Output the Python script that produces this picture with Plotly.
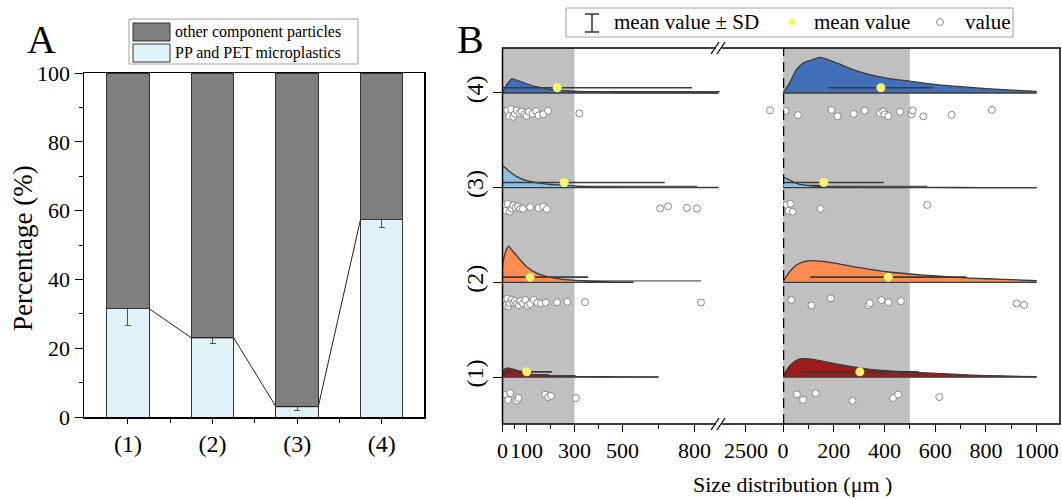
import plotly.graph_objects as go

W, H = 1062, 499
FONT = "Liberation Serif"


def X(p):
    return p / W


def Y(p):
    return (H - p) / H


# ---------------- Panel A data ----------------
groups = ["(1)", "(2)", "(3)", "(4)"]
pp_pet = [31.5, 23.0, 3.0, 57.5]
pp_pet_sd = [5.0, 1.5, 1.0, 2.5]
other = [100 - v for v in pp_pet]

# ---------------- Panel B data (size, um) ----------------
size_left_1 = [15, 24, 32, 60, 67, 178, 190, 202, 306]
size_left_2 = [10, 15, 20, 25, 30, 38, 45, 52, 60, 68, 75, 85, 95, 105, 115, 130,
               145, 160, 180, 227, 270, 344, 827]
size_left_3 = [8, 15, 22, 30, 38, 45, 55, 65, 75, 85, 115, 150, 170, 185, 657, 690, 768, 810]
size_left_4 = [20, 28, 35, 45, 52, 60, 70, 80, 92, 100, 110, 125, 140, 150, 170, 190, 320, 2600]
size_right_1 = [55, 79, 129, 274, 434, 454, 616]
size_right_2 = [33, 112, 188, 336, 342, 388, 415, 465, 921, 950]
size_right_3 = [14, 22, 30, 38, 148, 569]
size_right_4 = [10, 59, 191, 215, 279, 322, 382, 395, 401, 415, 461, 507, 511, 553, 665, 823]

mean_left = [101, 115, 257, 228]
sd_left = [105, 242, 419, 562]
mean_right = [303, 415, 161, 386]
sd_right = [231, 308, 236, 205]

# relative density curves
dens_left_1_x = [0, 18, 60, 100, 130, 200, 330, 500, 650]
dens_left_1_y = [0.063, 0.095, 0.071, 0.042, 0.025, 0.013, 0.005, 0.002, 0.001]
dens_left_2_x = [0, 15, 25, 45, 75, 100, 145, 200, 250, 335, 435, 545]
dens_left_2_y = [0.165, 0.338, 0.383, 0.323, 0.235, 0.165, 0.095, 0.053, 0.032, 0.017, 0.005, 0.001]
dens_left_3_x = [0, 5, 30, 60, 100, 160, 230, 320, 450, 600, 900]
dens_left_3_y = [0.222, 0.222, 0.169, 0.116, 0.074, 0.046, 0.029, 0.014, 0.006, 0.003, 0.002]
dens_left_4_x = [0, 10, 20, 40, 60, 90, 140, 200, 280, 380, 500, 700, 900]
dens_left_4_y = [0, 0.053, 0.095, 0.148, 0.132, 0.106, 0.067, 0.039, 0.021, 0.011, 0.005, 0.003, 0.002]

dens_right_1_x = [0, 26, 53, 79, 118, 184, 276, 342, 474, 605, 737, 869, 1000]
dens_right_1_y = [0.011, 0.116, 0.176, 0.193, 0.187, 0.151, 0.106, 0.081, 0.056, 0.039, 0.021, 0.011, 0.003]
dens_right_2_x = [0, 26, 53, 92, 145, 211, 276, 342, 408, 500, 605, 737, 869, 1000]
dens_right_2_y = [0.007, 0.112, 0.183, 0.225, 0.225, 0.201, 0.165, 0.137, 0.112, 0.088, 0.067, 0.045, 0.032, 0.017]
dens_right_3_x = [0, 3, 26, 53, 92, 156, 250, 400, 600, 800, 1000]
dens_right_3_y = [0.109, 0.109, 0.081, 0.045, 0.024, 0.011, 0.005, 0.003, 0.002, 0.001, 0.001]
dens_right_4_x = [0, 26, 53, 79, 118, 145, 211, 276, 342, 408, 500, 605, 737, 869, 1000]
dens_right_4_y = [0, 0.106, 0.246, 0.317, 0.352, 0.375, 0.317, 0.246, 0.193, 0.158, 0.124, 0.088, 0.059, 0.035, 0.017]

seg1_range = [0, 906]
seg2_range = [2392, 2654]
seg3_range = [0, 1092]

colors = {1: "#9e1b1b", 2: "#fd8c52", 3: "#8cbfe3", 4: "#4170b8"}
OUT = "#3a3a3a"

fig = go.Figure()

# ---------------- Panel A ----------------
xpos = [1, 2, 3, 4]
BW = 0.5
fig.add_trace(go.Bar(x=xpos, y=pp_pet, width=BW, marker=dict(color="#dff3f9", line=dict(color="#333", width=1)),
                     error_y=dict(type="data", array=pp_pet_sd, color="#555", thickness=1, width=3),
                     xaxis="x", yaxis="y", showlegend=False, hoverinfo="skip"))
fig.add_trace(go.Bar(x=xpos, y=other, width=BW, marker=dict(color="#7f7f7f", line=dict(color="#333", width=1)),
                     xaxis="x", yaxis="y", showlegend=False, hoverinfo="skip"))
lx, ly = [], []
for i, v in enumerate(pp_pet):
    if i > 0:
        lx.append(xpos[i] - BW / 2)
        ly.append(v)
    if i < len(pp_pet) - 1:
        lx.append(xpos[i] + BW / 2)
        ly.append(v)
fig.add_trace(go.Scatter(x=lx, y=ly, mode="lines", line=dict(color="#222", width=1),
                         xaxis="x", yaxis="y", showlegend=False, hoverinfo="skip"))

# ---------------- Panel B ----------------
def add_violin(xs, hs, cat, color, xref):
    xs = list(xs)
    hs = list(hs)
    if hs[0] > 0.02:
        xs = [xs[0]] + xs
        hs = [0] + hs
    fig.add_trace(go.Scatter(x=[xs[0], xs[-1]], y=[cat, cat], mode="lines",
                             line=dict(color=OUT, width=1.3), xaxis=xref, yaxis="y2",
                             showlegend=False, hoverinfo="skip"))
    fig.add_trace(go.Scatter(x=xs, y=[cat + h for h in hs], mode="lines",
                             line=dict(color=OUT, width=1.3, shape="spline", smoothing=0.7),
                             fill="tonexty", fillcolor=color, xaxis=xref, yaxis="y2",
                             showlegend=False, hoverinfo="skip"))


def add_box(vals, cat, xref):
    fig.add_trace(go.Box(x=vals, y0=cat + 0.015, orientation="h", boxpoints=False, width=0.02,
                         fillcolor="#555", line=dict(color=OUT, width=1), whiskerwidth=0,
                         xaxis=xref, yaxis="y2", showlegend=False, hoverinfo="skip"))


def add_points(vals, cat, xref, lo, hi):
    v = [a for a in vals if lo <= a <= hi]
    if not v:
        return
    fig.add_trace(go.Box(x=v, y0=cat, orientation="h", boxpoints="all", jitter=0.5, pointpos=-2,
                         width=0.21, fillcolor="rgba(0,0,0,0)",
                         line=dict(color="rgba(0,0,0,0)", width=0), whiskerwidth=0,
                         marker=dict(symbol="circle", size=7, color="white",
                                     line=dict(color="#8a8a8a", width=1)),
                         xaxis=xref, yaxis="y2", showlegend=False, hoverinfo="skip"))


def add_mean(m, s, cat, xref):
    fig.add_trace(go.Scatter(x=[m], y=[cat + 0.055], mode="markers",
                             marker=dict(color="#f7f46a", size=9),
                             error_x=dict(type="data", array=[s], color=OUT, thickness=1.6, width=0),
                             xaxis=xref, yaxis="y2", showlegend=False, hoverinfo="skip"))


left_sets = {1: (size_left_1, dens_left_1_x, dens_left_1_y),
             2: (size_left_2, dens_left_2_x, dens_left_2_y),
             3: (size_left_3, dens_left_3_x, dens_left_3_y),
             4: (size_left_4, dens_left_4_x, dens_left_4_y)}
right_sets = {1: (size_right_1, dens_right_1_x, dens_right_1_y),
              2: (size_right_2, dens_right_2_x, dens_right_2_y),
              3: (size_right_3, dens_right_3_x, dens_right_3_y),
              4: (size_right_4, dens_right_4_x, dens_right_4_y)}

for cat in [1, 2, 3, 4]:
    vals, dx, dy = left_sets[cat]
    add_violin(dx, dy, cat, colors[cat], "x2")
    add_box(vals, cat, "x2")
    vals_r, dxr, dyr = right_sets[cat]
    add_violin(dxr, dyr, cat, colors[cat], "x4")
    add_box(vals_r, cat, "x4")

for cat in [1, 2, 3, 4]:
    add_mean(mean_left[cat - 1], sd_left[cat - 1], cat, "x2")
    add_mean(mean_right[cat - 1], sd_right[cat - 1], cat, "x4")

for cat in [1, 2, 3, 4]:
    vals = left_sets[cat][0]
    add_points(vals, cat, "x2", seg1_range[0], seg1_range[1])
    add_points(vals, cat, "x3", seg2_range[0], seg2_range[1])
    add_points(right_sets[cat][0], cat, "x4", seg3_range[0], seg3_range[1])

tickfont = dict(family=FONT, size=22, color="black")
common_x = dict(showgrid=False, zeroline=False, showline=False, ticks="outside", ticklen=7,
                tickwidth=1, tickcolor="black", tickfont=tickfont, anchor="y2", fixedrange=True,
                tickangle=0, automargin=False)

fig.update_layout(
    template="none",
    width=W, height=H, autosize=False,
    margin=dict(l=0, r=0, t=0, b=0, pad=0, autoexpand=False),
    paper_bgcolor="white", plot_bgcolor="white",
    barmode="stack", boxmode="overlay", showlegend=False,
    font=dict(family=FONT, color="black"),
    xaxis=dict(domain=[X(84), X(424)], range=[0.48, 4.5], tickvals=xpos, ticktext=groups,
               ticks="outside", ticklen=5, tickwidth=1, tickcolor="black", tickangle=0,
               minor=dict(tickvals=[1.5, 2.5, 3.5], ticks="outside", ticklen=4, tickcolor="black"),
               showline=True, linecolor="black", linewidth=1.5, mirror=True, automargin=False,
               showgrid=False, zeroline=False, tickfont=dict(family=FONT, size=24), anchor="y"),
    yaxis=dict(domain=[Y(417), Y(73)], range=[0, 100], tickvals=[0, 20, 40, 60, 80, 100],
               ticks="outside", ticklen=8, tickwidth=1, tickcolor="black", automargin=False,
               minor=dict(tickvals=[10, 30, 50, 70, 90], ticks="outside", ticklen=4, tickcolor="black"),
               showline=True, linecolor="black", linewidth=1.5, mirror=True,
               showgrid=False, zeroline=False, tickfont=dict(family=FONT, size=22), anchor="x"),
    xaxis2=dict(domain=[X(502.5), X(720)], range=seg1_range, tickvals=[0, 100, 300, 500, 800],
                minor=dict(tickvals=[50, 200, 400, 650], ticks="outside", ticklen=4, tickcolor="black"),
                **common_x),
    xaxis3=dict(domain=[X(720), X(783)], range=seg2_range, tickvals=[2500], **common_x),
    xaxis4=dict(domain=[X(783), X(1060)], range=seg3_range, tickvals=[0, 200, 400, 600, 800, 1000],
                minor=dict(tickvals=[100, 300, 500, 700, 900], ticks="outside", ticklen=4, tickcolor="black"),
                **common_x),
    yaxis2=dict(domain=[Y(424), Y(48)], range=[0.504, 4.475], tickvals=[1, 2, 3, 4], ticktext=groups,
                tickangle=-90, ticks="outside", ticklen=9, tickwidth=1, tickcolor="black",
                showline=False, showgrid=False, zeroline=False, automargin=False,
                tickfont=dict(family=FONT, size=24), anchor="x2", fixedrange=True),
)

shapes = []
# shaded regions
shapes.append(dict(type="rect", xref="x2", yref="paper", x0=0, x1=300, y0=Y(424), y1=Y(48),
                   fillcolor="#c0c0c0", line=dict(width=0), layer="below"))
shapes.append(dict(type="rect", xref="x4", yref="paper", x0=0, x1=500, y0=Y(424), y1=Y(48),
                   fillcolor="#c0c0c0", line=dict(width=0), layer="below"))
# frame of panel B
shapes.append(dict(type="rect", xref="paper", yref="paper", x0=X(502.5), x1=X(1060), y0=Y(424), y1=Y(48),
                   line=dict(color="black", width=1.5)))
# dashed separator
shapes.append(dict(type="line", xref="x4", yref="paper", x0=0, x1=0, y0=Y(424), y1=Y(48),
                   line=dict(color="black", width=2.5, dash="10px,6px")))
# axis breaks
for yb in [48, 424]:
    shapes.append(dict(type="line", xref="paper", yref="paper", x0=X(716), x1=X(722), y0=Y(yb), y1=Y(yb),
                       line=dict(color="white", width=3)))
    for xo in [711, 717]:
        shapes.append(dict(type="line", xref="paper", yref="paper", x0=X(xo), x1=X(xo + 8),
                           y0=Y(yb + 6), y1=Y(yb - 6), line=dict(color="black", width=1.3)))

# legend A
shapes.append(dict(type="rect", xref="paper", yref="paper", x0=X(129), x1=X(358), y0=Y(64), y1=Y(19),
                   line=dict(color="#a0a0a0", width=1), fillcolor="white"))
shapes.append(dict(type="rect", xref="paper", yref="paper", x0=X(133), x1=X(170), y0=Y(41), y1=Y(23),
                   line=dict(color="#333", width=1), fillcolor="#7f7f7f"))
shapes.append(dict(type="rect", xref="paper", yref="paper", x0=X(133), x1=X(170), y0=Y(62), y1=Y(44),
                   line=dict(color="#333", width=1), fillcolor="#dff3f9"))
# legend B
shapes.append(dict(type="rect", xref="paper", yref="paper", x0=X(566), x1=X(1013), y0=Y(37), y1=Y(8),
                   line=dict(color="#a0a0a0", width=1), fillcolor="white"))
shapes.append(dict(type="line", xref="paper", yref="paper", x0=X(592), x1=X(592), y0=Y(32), y1=Y(14),
                   line=dict(color="#333", width=1.5)))
for yc in [14, 32]:
    shapes.append(dict(type="line", xref="paper", yref="paper", x0=X(585), x1=X(599), y0=Y(yc), y1=Y(yc),
                       line=dict(color="#333", width=1.5)))
shapes.append(dict(type="circle", xref="paper", yref="paper", x0=X(788.5), x1=X(795.5), y0=Y(25.5), y1=Y(18.5),
                   fillcolor="#f7f46a", line=dict(width=0)))
shapes.append(dict(type="circle", xref="paper", yref="paper", x0=X(936.5), x1=X(943.5), y0=Y(25.5), y1=Y(18.5),
                   fillcolor="white", line=dict(color="#8a8a8a", width=1)))
fig.update_layout(shapes=shapes)

ann = []


def txt(x, y, s, size, xanchor="center", angle=0):
    ann.append(dict(x=X(x), y=Y(y), xref="paper", yref="paper", text=s, showarrow=False,
                    xanchor=xanchor, yanchor="middle", textangle=angle,
                    font=dict(family=FONT, size=size, color="black")))


txt(173, 32, "other component particles", 16, "left")
txt(173, 53, "PP and PET microplastics", 16, "left")
txt(612, 22, "mean value ± SD", 21, "left")
txt(812, 22, "mean value", 21, "left")
txt(963, 22, "value", 21, "left")
txt(41, 40, "A", 40)
txt(470, 40, "B", 40)
txt(23, 248, "Percentage (%)", 27, angle=-90)
txt(792, 484, "Size distribution (μm )", 22)
fig.update_layout(annotations=ann)

fig.write_html("out.html",
               config={"displayModeBar": False, "staticPlot": True},
               post_script="document.body.style.margin='0px';document.body.style.overflow='hidden';")
